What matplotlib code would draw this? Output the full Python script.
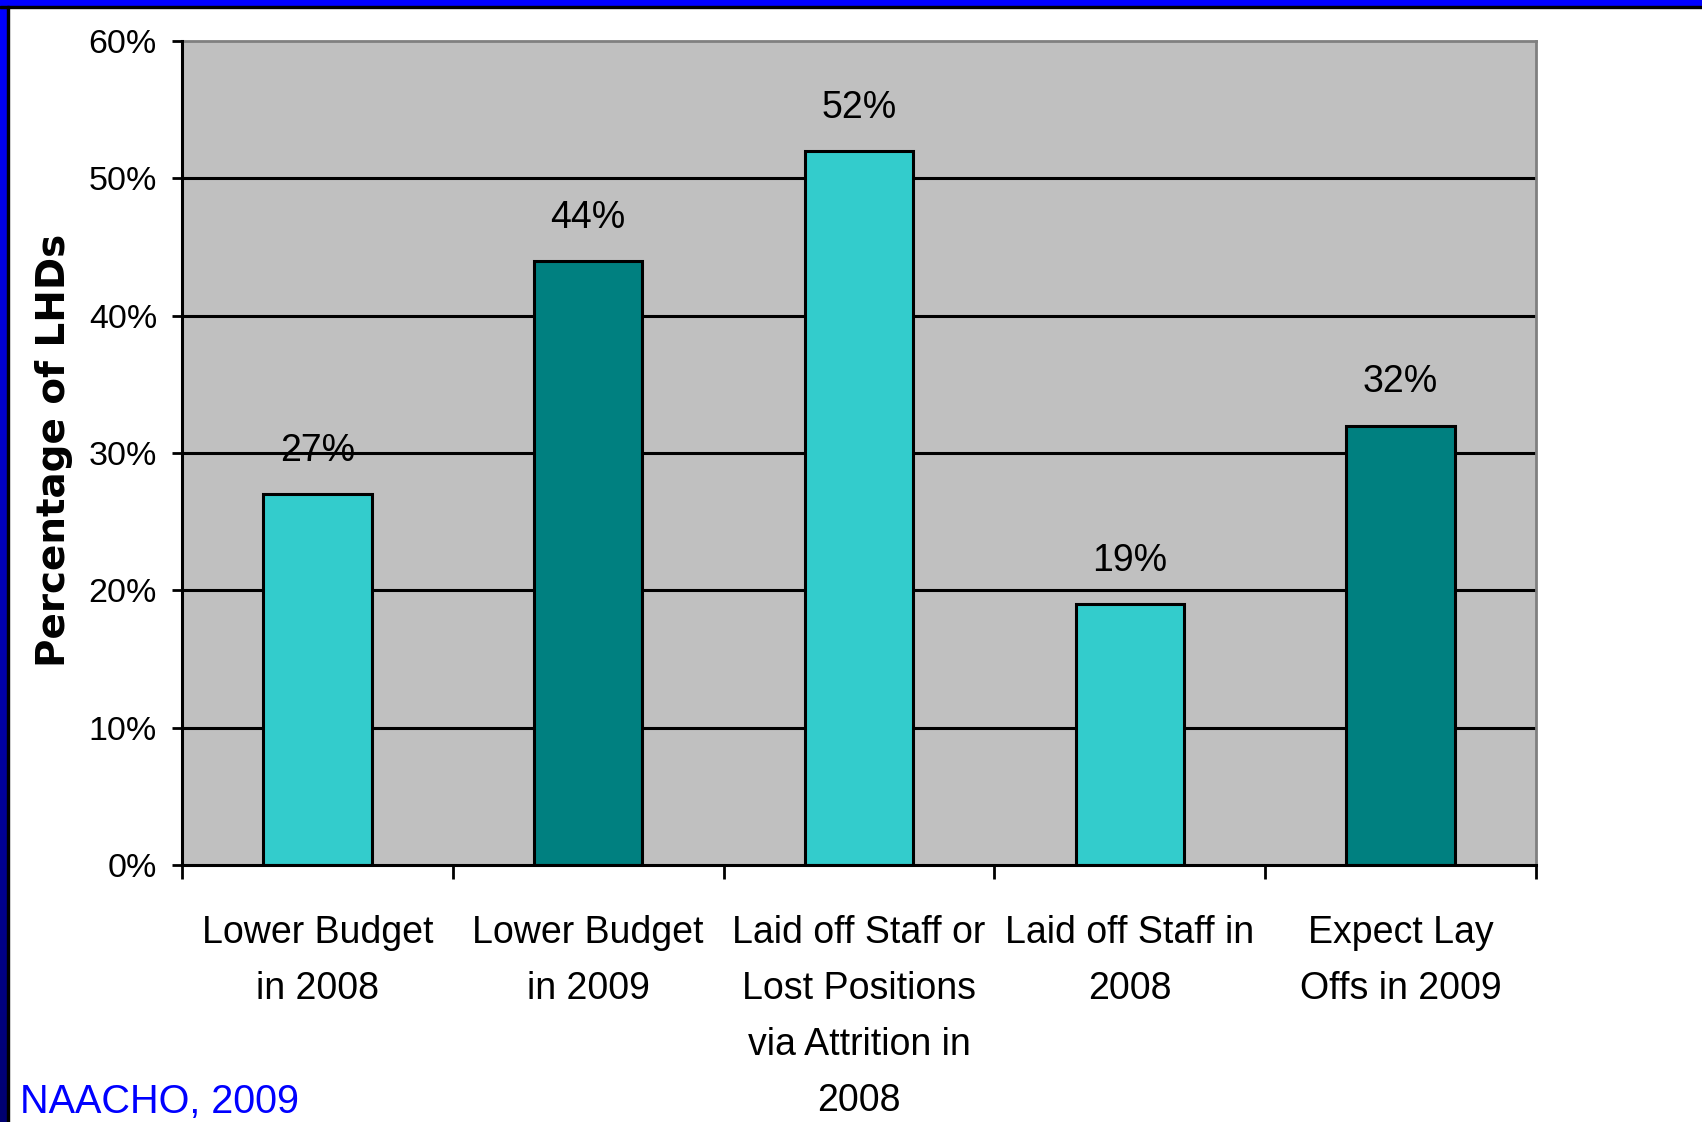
import numpy as np
import matplotlib.pyplot as plt
from matplotlib.patches import Rectangle
from matplotlib.colors import LinearSegmentedColormap

# chart data
categories = ["Lower Budget\nin 2008", "Lower Budget\nin 2009",
              "Laid off Staff or\nLost Positions\nvia Attrition in\n2008",
              "Laid off Staff in\n2008", "Expect Lay\nOffs in 2009"]
values = [27, 44, 52, 19, 32]
bar_colors = ["#33CCCC", "#008080", "#33CCCC", "#33CCCC", "#008080"]
y_ticks = [0, 10, 20, 30, 40, 50, 60]
y_label = "Percentage of LHDs"
source = "NAACHO, 2009"

plain = ["Liberation Sans", "DejaVu Sans"]

fig = plt.figure(figsize=(17.02, 11.22), dpi=100)
fig.patch.set_facecolor("white")

# slide frame: blue band on top, blue->navy strip on the left
band = fig.add_axes([0, 1 - 6/1122, 1, 6/1122])
band.set_facecolor("#0000FF")
band.set_xticks([]); band.set_yticks([])
for s in band.spines.values():
    s.set_visible(False)
fig.add_artist(Rectangle((0, 1 - 7.5/1122), 1, 1.5/1122, transform=fig.transFigure,
                         color="black", zorder=5))
left = fig.add_axes([0, 0, 7/1702, 1])
grad = np.linspace(0, 1, 256).reshape(-1, 1)
cm = LinearSegmentedColormap.from_list("frame", ["#000070", "#0000FF"])
left.imshow(grad, aspect="auto", cmap=cm, origin="lower")
left.set_axis_off()
fig.add_artist(Rectangle((7/1702, 0), 1.5/1702, 1 - 6/1122, transform=fig.transFigure,
                         color="black", zorder=5))

ax = fig.add_axes([182/1702, 1 - 865/1122, (1536 - 182)/1702, (865 - 41)/1122])
ax.set_facecolor("#C0C0C0")
x = np.arange(len(categories))
ax.bar(x, values, width=0.4, color=bar_colors, edgecolor="black", linewidth=2.2, zorder=3)

ax.set_xlim(-0.5, len(categories) - 0.5)
ax.set_ylim(0, 60)
ax.set_yticks(y_ticks)
ax.set_yticklabels([f"{v}%" for v in y_ticks], family=plain, fontsize=24.5)
ax.tick_params(axis="y", length=7, width=2, pad=11, color="black")

# category labels sit between the boundary ticks
ax.set_xticks(x)
ax.set_xticklabels(categories, family=plain, fontsize=27, linespacing=1.72)
ax.tick_params(axis="x", length=0, pad=36)
ax.set_xticks(np.arange(len(categories) + 1) - 0.5, minor=True)
ax.tick_params(axis="x", which="minor", length=10, width=2, color="black")

for yv in y_ticks[1:-1]:
    ax.axhline(yv, color="black", linewidth=2.2, zorder=2)

for s in ["top", "right"]:
    ax.spines[s].set_color("#808080")
    ax.spines[s].set_linewidth(2)
for s in ["left", "bottom"]:
    ax.spines[s].set_color("black")
    ax.spines[s].set_linewidth(2.2)
    ax.spines[s].set_zorder(4)

for xi, v in zip(x, values):
    ax.annotate(f"{v}%", (xi, v), xytext=(0, 31), textcoords="offset points",
                ha="center", va="center", family=plain, fontsize=27)

fig.text(54/1702, 1 - 450/1122, y_label, rotation=90, ha="center", va="center",
         family="DejaVu Sans", fontweight="bold", fontsize=28)

fig.text(20/1702, 1 - 1102/1122, source, ha="left", va="center",
         family=plain, fontsize=28.5, color="#0000FF")

fig.savefig("out.png", dpi=100, facecolor="white")
